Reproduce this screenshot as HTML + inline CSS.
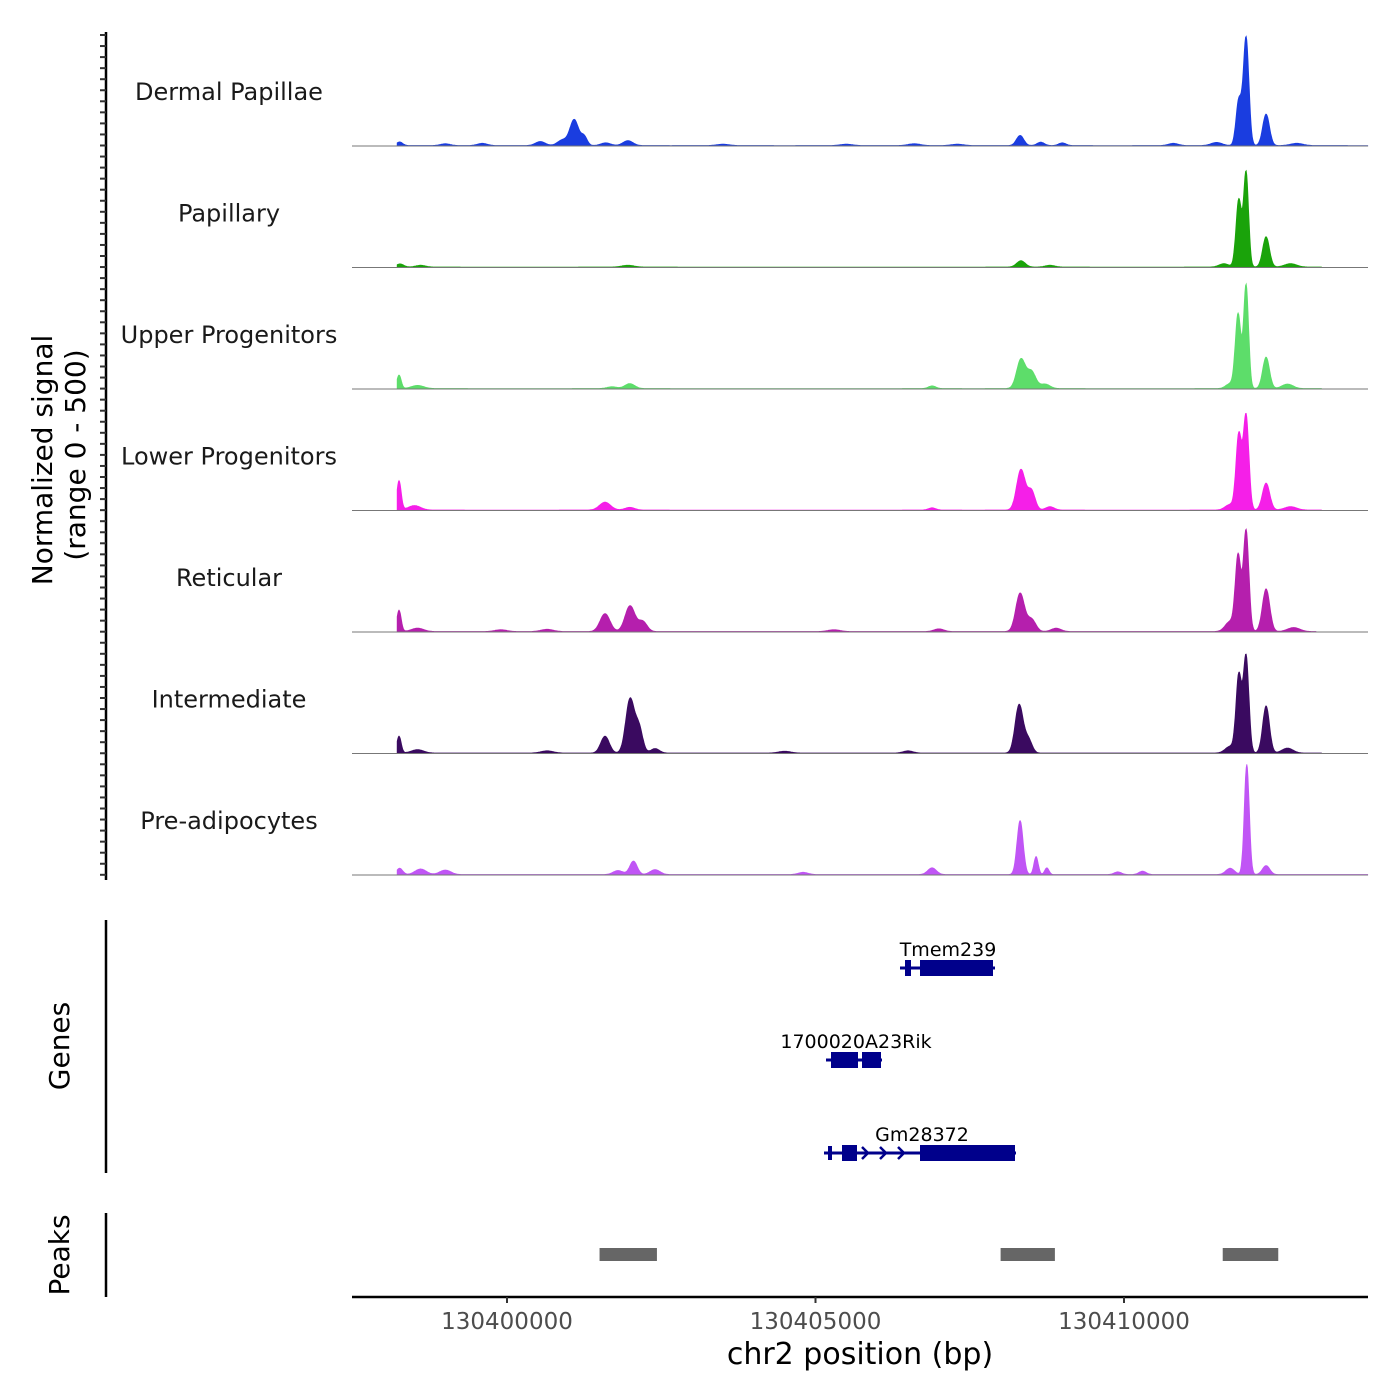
<!DOCTYPE html>
<html><head><meta charset="utf-8"><style>
body{margin:0;background:#fff}
svg{display:block;font-family:"DejaVu Sans","Liberation Sans",sans-serif}
</style></head><body>
<svg id="chart" width="1400" height="1400" viewBox="0 0 1400 1400" xmlns="http://www.w3.org/2000/svg">
<g id="tracks"></g>
<g id="yaxis"></g>
<text transform="translate(52,460) rotate(-90)" text-anchor="middle" font-size="28" fill="#000">Normalized signal</text>
<text transform="translate(85,455) rotate(-90)" text-anchor="middle" font-size="28" fill="#000">(range 0 - 500)</text>
<line x1="106" y1="920" x2="106" y2="1173" stroke="#000" stroke-width="2.5"/>
<text transform="translate(69,1046) rotate(-90)" text-anchor="middle" font-size="28">Genes</text>
<line x1="106" y1="1213" x2="106" y2="1297" stroke="#000" stroke-width="2.5"/>
<text transform="translate(69,1255) rotate(-90)" text-anchor="middle" font-size="28">Peaks</text>
<g id="genes"></g>
<g id="peaks"></g>
<g id="xaxis"></g>
<text x="860" y="1364" text-anchor="middle" font-size="30">chr2 position (bp)</text>
</svg>
<script>
const trackNames=["Dermal Papillae","Papillary","Upper Progenitors","Lower Progenitors","Reticular","Intermediate","Pre-adipocytes"];
const trackColors=["#1a3de0","#1aa30a","#5ddd6a","#f51fe8","#b51fad","#3a0a60","#c055f5"];
// peaks per track: [center bp, height (0-500 scale), width bp]
const peaksDermal=[[130398260,16,50],[130399000,8,80],[130399600,10,80],[130400540,18,80],[130400900,25,80],[130401090,115,70],[130401250,40,50],[130401600,12,80],[130401960,22,80],[130403500,6,100],[130405500,6,100],[130406600,8,100],[130407300,6,100],[130408316,45,60],[130408650,15,60],[130409000,12,60],[130410800,10,80],[130411979,480,45],[130411860,200,45],[130412303,140,55],[130411500,14,90],[130412800,10,100]];
const peaksPapillary=[[130398266,14,60],[130398600,8,80],[130401960,8,100],[130408330,28,70],[130408800,8,80],[130411979,420,40],[130411860,300,45],[130412303,135,55],[130411620,15,80],[130412700,15,100]];
const peaksUpper=[[130398250,60,35],[130398550,14,100],[130401700,8,80],[130401990,22,80],[130406890,12,60],[130408330,130,70],[130408500,75,70],[130408720,20,80],[130411979,460,40],[130411849,330,45],[130412303,140,55],[130411720,22,70],[130412650,20,90]];
const peaksLower=[[130398250,130,35],[130398500,20,100],[130401589,35,90],[130401990,12,80],[130406890,10,60],[130408330,180,70],[130408500,85,60],[130408800,15,70],[130411979,420,45],[130411860,330,45],[130412303,120,60],[130411720,25,80],[130412700,15,100]];
const peaksReticular=[[130398250,95,35],[130398550,15,100],[130399900,8,100],[130400650,10,100],[130401589,80,80],[130401994,115,80],[130402200,45,70],[130405300,8,100],[130407000,12,80],[130408316,170,70],[130408500,55,70],[130408900,15,80],[130411979,450,45],[130411849,330,45],[130412303,190,60],[130411720,45,80],[130412750,18,100]];
const peaksIntermediate=[[130398250,75,35],[130398550,15,100],[130400650,10,100],[130401589,75,70],[130401994,240,70],[130402140,110,60],[130402400,20,70],[130404500,8,100],[130406500,10,80],[130408300,215,65],[130408450,60,60],[130411979,430,45],[130411860,340,45],[130412303,210,55],[130411720,30,80],[130412650,22,90]];
const peaksPre=[[130398260,28,50],[130398600,25,90],[130399000,20,90],[130401800,18,80],[130402050,60,60],[130402400,22,80],[130404800,10,80],[130406889,30,70],[130408316,240,50],[130408575,80,35],[130408750,30,35],[130409900,12,60],[130410300,15,60],[130411720,28,70],[130411990,490,40],[130412303,40,60]];
const allPeaks=[peaksDermal,peaksPapillary,peaksUpper,peaksLower,peaksReticular,peaksIntermediate,peaksPre];
const trackStart=130398220;
const trackEnd=[130413950,130413200,130413200,130413200,130413110,130413200,130413950];
const xTicks=[130400000,130405000,130410000];
const peakRegions=[[130401500,130402430],[130408000,130408880],[130411600,130412500]];
const NS="http://www.w3.org/2000/svg";
const x=bp=>507+(bp-130400000)*308.5/5000;
const X0=352,X1=1368,BASE0=146,TH=121.5,YS=0.225;
function mk(tag,attrs,parent){const e=document.createElementNS(NS,tag);for(const k in attrs)e.setAttribute(k,attrs[k]);parent.appendChild(e);return e;}
const tg=document.getElementById('tracks');
trackNames.forEach((nm,i)=>{
  const base=BASE0+i*TH;
  const g=mk('g',{},tg);
  
  
  const t=mk('text',{x:229,y:base-46,'text-anchor':'middle','font-size':24,fill:'#1a1a1a'},g);
  t.textContent=nm;
  
  
  const pk=allPeaks[i];
  let d='M'+x(trackStart)+','+base;
  for(let bp=trackStart;bp<=trackEnd[i];bp+=10){
    let v=2;pk.forEach(p=>{const z=(bp-p[0])/p[2];v+=p[1]*Math.exp(-0.5*z*z);});
    d+=' L'+x(bp).toFixed(1)+','+(base-Math.min(v,500)*YS).toFixed(1);
  }
  d+=' L'+x(trackEnd[i])+','+base+'Z';
  const a=mk('path',{d:d,fill:trackColors[i],stroke:trackColors[i],'stroke-width':0.8},g);
  
  
  const l=mk('line',{x1:X0,x2:X1,y1:base,y2:base,stroke:'#777','stroke-width':1},g);
  
  
});
const ya=document.getElementById('yaxis');
mk('line',{x1:106,y1:32,x2:106,y2:880,stroke:'#000','stroke-width':2.5},ya);
for(let y=35;y<=878;y+=11.05){mk('line',{x1:100,x2:106,y1:y,y2:y,stroke:'#333','stroke-width':2},ya);}
const gg=document.getElementById('genes');const GC='#00008b';
function gene(name,y,x1,x2,boxes,lab,lx){
  const g=mk('g',{},gg);
  
  
  mk('line',{x1:x1,x2:x2,y1:y,y2:y,stroke:GC,'stroke-width':3},g);
  boxes.forEach(b=>mk('rect',{x:b[0],y:y-b[2]/2,width:b[1]-b[0],height:b[2],fill:GC},g));
  const t=mk('text',{x:lx,y:y-12,'text-anchor':'middle','font-size':19,fill:'#000'},g);t.textContent=lab;
}
gene('Tmem239',968,900,995,[[905,911,16],[920,993,16]],'Tmem239',948);
gene('1700020A23Rik',1060,826,882,[[831,858,16],[862,881,16]],'1700020A23Rik',856);
gene('Gm28372',1153,824,1016,[[842,857,16],[920,1015,16],[828,832,14]],'Gm28372',922);
[866,884,902].forEach(ax=>mk('path',{d:`M${ax-4},${1147} L${ax+2},1153 L${ax-4},1159`,fill:'none',stroke:GC,'stroke-width':2.5},gg));
const pg=document.getElementById('peaks');
peakRegions.forEach(r=>{const e=mk('rect',{x:x(r[0]),y:1248,width:x(r[1])-x(r[0]),height:13,fill:'#666'},pg);

});
const xa=document.getElementById('xaxis');
mk('line',{x1:X0,x2:X1,y1:1297,y2:1297,stroke:'#000','stroke-width':2.5},xa);
xTicks.forEach(t=>{mk('line',{x1:x(t),x2:x(t),y1:1297,y2:1303,stroke:'#333','stroke-width':2},xa);
const l=mk('text',{x:x(t),y:1329,'text-anchor':'middle','font-size':23,fill:'#4d4d4d'},xa);l.textContent=t;

});
</script>
</body></html>
